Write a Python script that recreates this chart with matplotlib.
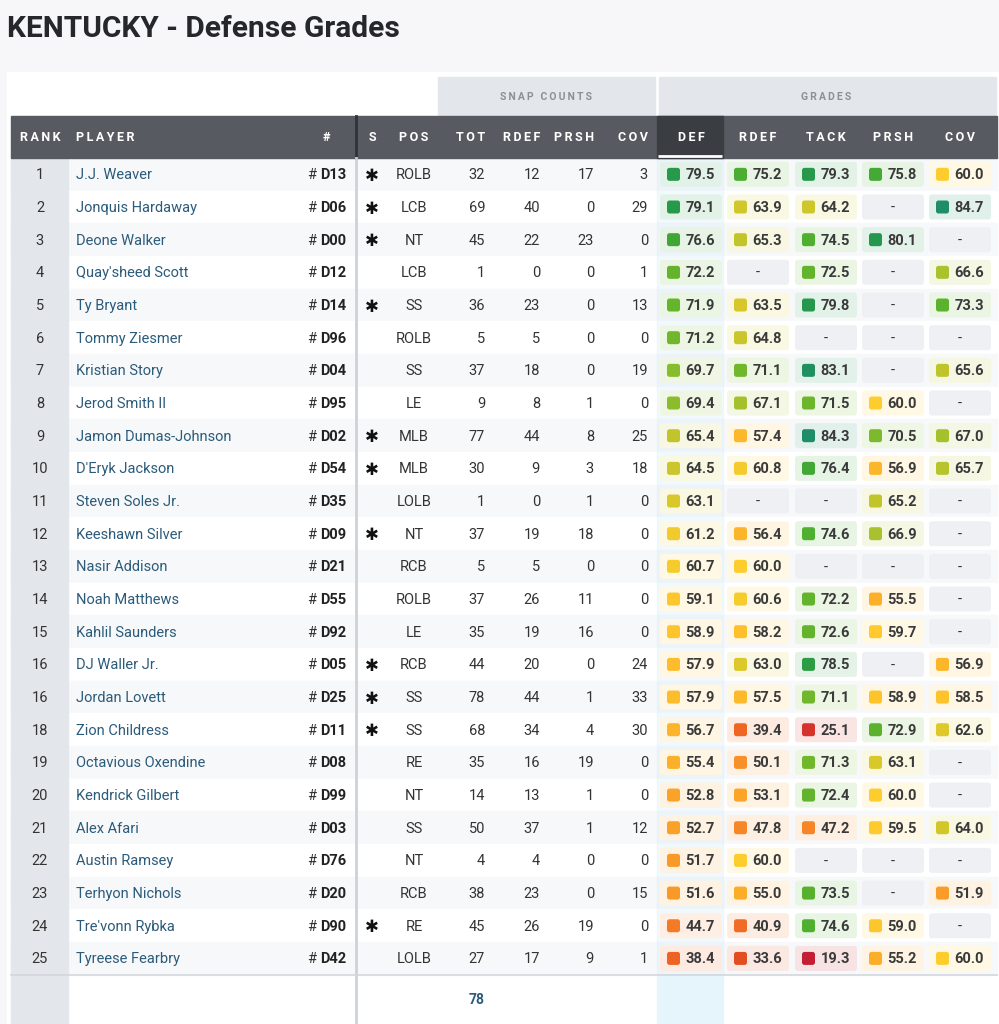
import numpy as np
import matplotlib.pyplot as plt
from matplotlib.patches import Rectangle, FancyBboxPatch
from matplotlib.colors import LinearSegmentedColormap, to_rgb

# table data
ranks = [1, 2, 3, 4, 5, 6, 7, 8, 9, 10, 11, 12, 13, 14, 15, 16, 16, 18, 19, 20, 21, 22, 23, 24, 25]
players = ["J.J. Weaver", "Jonquis Hardaway", "Deone Walker", "Quay'sheed Scott", "Ty Bryant",
           "Tommy Ziesmer", "Kristian Story", "Jerod Smith II", "Jamon Dumas-Johnson", "D'Eryk Jackson",
           "Steven Soles Jr.", "Keeshawn Silver", "Nasir Addison", "Noah Matthews", "Kahlil Saunders",
           "DJ Waller Jr.", "Jordan Lovett", "Zion Childress", "Octavious Oxendine", "Kendrick Gilbert",
           "Alex Afari", "Austin Ramsey", "Terhyon Nichols", "Tre'vonn Rybka", "Tyreese Fearbry"]
jerseys = ["D13", "D06", "D00", "D12", "D14", "D96", "D04", "D95", "D02", "D54", "D35", "D09", "D21",
           "D55", "D92", "D05", "D25", "D11", "D08", "D99", "D03", "D76", "D20", "D90", "D42"]
starter = [1, 1, 1, 0, 1, 0, 0, 0, 1, 1, 0, 1, 0, 0, 0, 1, 1, 1, 0, 0, 0, 0, 0, 1, 0]
positions = ["ROLB", "LCB", "NT", "LCB", "SS", "ROLB", "SS", "LE", "MLB", "MLB", "LOLB", "NT", "RCB",
             "ROLB", "LE", "RCB", "SS", "SS", "RE", "NT", "SS", "NT", "RCB", "RE", "LOLB"]
snap_tot = [32, 69, 45, 1, 36, 5, 37, 9, 77, 30, 1, 37, 5, 37, 35, 44, 78, 68, 35, 14, 50, 4, 38, 45, 27]
snap_rdef = [12, 40, 22, 0, 23, 5, 18, 8, 44, 9, 0, 19, 5, 26, 19, 20, 44, 34, 16, 13, 37, 4, 23, 26, 17]
snap_prsh = [17, 0, 23, 0, 0, 0, 0, 1, 8, 3, 1, 18, 0, 11, 16, 0, 1, 4, 19, 1, 1, 0, 0, 19, 9]
snap_cov = [3, 29, 0, 1, 13, 0, 19, 0, 25, 18, 0, 0, 0, 0, 0, 24, 33, 30, 0, 0, 12, 0, 15, 0, 1]
grade_def = [79.5, 79.1, 76.6, 72.2, 71.9, 71.2, 69.7, 69.4, 65.4, 64.5, 63.1, 61.2, 60.7, 59.1, 58.9,
             57.9, 57.9, 56.7, 55.4, 52.8, 52.7, 51.7, 51.6, 44.7, 38.4]
grade_rdef = [75.2, 63.9, 65.3, None, 63.5, 64.8, 71.1, 67.1, 57.4, 60.8, None, 56.4, 60.0, 60.6, 58.2,
              63.0, 57.5, 39.4, 50.1, 53.1, 47.8, 60.0, 55.0, 40.9, 33.6]
grade_tack = [79.3, 64.2, 74.5, 72.5, 79.8, None, 83.1, 71.5, 84.3, 76.4, None, 74.6, None, 72.2, 72.6,
              78.5, 71.1, 25.1, 71.3, 72.4, 47.2, None, 73.5, 74.6, 19.3]
grade_prsh = [75.8, None, 80.1, None, None, None, None, 60.0, 70.5, 56.9, 65.2, 66.9, None, 55.5, 59.7,
              None, 58.9, 72.9, 63.1, 60.0, 59.5, None, None, 59.0, 55.2]
grade_cov = [60.0, 84.7, None, 66.6, 73.3, None, 65.6, None, 67.0, 65.7, None, None, None, None, None,
             56.9, 58.5, 62.6, None, None, 64.0, None, 51.9, None, 60.0]
snap_total = 78

snap_headers = ["TOT", "RDEF", "PRSH", "COV"]
grade_headers = ["DEF", "RDEF", "TACK", "PRSH", "COV"]

# grade colour scale
anchors = [(19, "#c21d33"), (25, "#d4342c"), (34, "#e4501f"), (39, "#ef6423"), (45, "#f47c25"),
           (50, "#f79029"), (53, "#fba328"), (57, "#fcb62a"), (60, "#fecd2d"), (63, "#dcc82a"),
           (65, "#c6c62b"), (67, "#a6c12c"), (70, "#84bb2c"), (72, "#66b52b"), (75, "#4cae30"),
           (77, "#3ea537"), (79, "#289a48"), (81, "#229553"), (85, "#1f8c6b")]
lo, hi = anchors[0][0], anchors[-1][0]
cmap = LinearSegmentedColormap.from_list(
    "grade", [((v - lo) / (hi - lo), c) for v, c in anchors])


def grade_color(v):
    return cmap((min(max(v, lo), hi) - lo) / (hi - lo))


def tint(c, a=0.12, base=(1, 1, 1)):
    c = to_rgb(c)
    return tuple(b * (1 - a) + x * a for x, b in zip(c, base))


def spaced(s):
    # letter-spaced header labels
    return "\u2009".join(s)


W, H = 999, 1024
fig = plt.figure(figsize=(W / 100, H / 100), dpi=100, facecolor="#f7f7f9")
ax = fig.add_axes([0, 0, 1, 1])
ax.set_xlim(0, W)
ax.set_ylim(H, 0)
ax.axis("off")

FONT = ["Roboto", "DejaVu Sans"]
TXT = "#333333"
BLUE = "#2b5b7a"

ax.text(7, 29, "KENTUCKY - Defense Grades", fontsize=21.5, fontweight="bold",
        family="Roboto", color="#25272b", va="center", ha="left")

# white panel
ax.add_patch(Rectangle((7, 72), 992, H - 72, color="white", zorder=0))

# group header bands
ax.add_patch(Rectangle((438, 77), 217, 38, color="#e3e6ea", zorder=1))
ax.add_patch(Rectangle((659, 77), 337, 38, color="#e3e6ea", zorder=1))
ax.text(546.5, 96.5, spaced("SNAP COUNTS"), fontsize=7.5, fontweight="bold", family=FONT,
        color="#8b9097", ha="center", va="center")
ax.text(826, 96.5, spaced("GRADES"), fontsize=7.5, fontweight="bold", family=FONT, color="#8b9097",
        ha="center", va="center")

row_top = 158
row_h = 32.67
n = len(players)
table_bottom = row_top + n * row_h

# row backgrounds
for i in range(n):
    y = row_top + i * row_h
    ax.add_patch(Rectangle((11, y), 986, row_h, color="#f7f8fa" if i % 2 == 0 else "white", zorder=1))
# rank column
ax.add_patch(Rectangle((11, row_top), 57, H - row_top, color="#e3e6ea", zorder=2))
# DEF column highlight
ax.add_patch(Rectangle((657, row_top), 66, table_bottom - row_top, color="#d8eef9", alpha=0.35, zorder=2))
ax.add_patch(Rectangle((657, table_bottom), 66, H - table_bottom, color="#e6f4fb", zorder=2))

# header bar
ax.add_patch(Rectangle((11, 116), 986, 42, color="#575b61", zorder=3))
ax.add_patch(Rectangle((657, 116), 66, 42, color="#3a3d42", zorder=3))
ax.plot([658, 722], [155.5, 155.5], color="white", lw=2, zorder=4, solid_capstyle="butt")

hy = 137.5
hkw = dict(fontsize=9, fontweight="bold", family=FONT, color="white", va="center", zorder=5)
ax.text(40, hy, spaced("RANK"), ha="center", **hkw)
ax.text(76, hy, spaced("PLAYER"), ha="left", **hkw)
ax.text(326, hy, "#", ha="center", **hkw)
ax.text(372, hy, "S", ha="center", **hkw)
ax.text(414, hy, spaced("POS"), ha="center", **hkw)
snap_x = [485, 540, 594, 648]
for x, lab in zip(snap_x, snap_headers):
    ax.text(x, hy, spaced(lab), ha="right", **hkw)
grade_x = [691, 758, 826, 893, 960]
for x, lab in zip(grade_x, grade_headers):
    ax.text(x, hy, spaced(lab), ha="center", **hkw)

# vertical separator
ax.plot([355.5, 355.5], [116, 158], color="#2f3236", lw=2, zorder=4)
ax.plot([355.5, 355.5], [158, H], color="#cdd2d8", lw=2, zorder=4)
# footer line
ax.plot([11, 997], [table_bottom, table_bottom], color="#d3d7dc", lw=1.2, zorder=4)

bkw = dict(fontsize=10.5, family=FONT, va="center", zorder=5)
grades = [grade_def, grade_rdef, grade_tack, grade_prsh, grade_cov]
snaps = [snap_tot, snap_rdef, snap_prsh, snap_cov]
cell_w, cell_h = 62, 25

for i in range(n):
    yc = row_top + (i + 0.5) * row_h
    yt = yc + 1
    ax.text(40, yt, str(ranks[i]), ha="center", color=TXT, **bkw)
    ax.text(76, yt, players[i], ha="left", color=BLUE, **bkw)
    ax.text(346, yt, jerseys[i], ha="right", color="#222222", fontweight="bold", **bkw)
    ax.text(316, yt, "#", ha="right", color=TXT, **bkw)
    if starter[i]:
        ax.text(372, yc + 1.5, "\u2731", ha="center", va="center", fontsize=12,
                family="DejaVu Sans", color="#111111", zorder=5)
    ax.text(414, yt, positions[i], ha="center", color=TXT, **bkw)
    for x, col in zip(snap_x, snaps):
        ax.text(x, yt, str(col[i]), ha="right", color=TXT, **bkw)
    for x, col in zip(grade_x, grades):
        v = col[i]
        x0 = x - cell_w / 2
        y0 = yc - cell_h / 2
        if v is None:
            ax.add_patch(FancyBboxPatch((x0, y0), cell_w, cell_h, boxstyle="round,pad=0,rounding_size=3",
                                        fc="#eef0f4", ec="none", zorder=4))
            ax.text(x, yt, "-", ha="center", color=TXT, **bkw)
        else:
            c = grade_color(v)
            ax.add_patch(FancyBboxPatch((x0, y0), cell_w, cell_h, boxstyle="round,pad=0,rounding_size=3",
                                        fc=tint(c, 0.13), ec="none", zorder=4))
            ax.add_patch(FancyBboxPatch((x0 + 7, yc - 6.5), 13, 13, boxstyle="round,pad=0,rounding_size=2.5",
                                        fc=c, ec="none", zorder=5))
            ax.text(x0 + 55, yt, f"{v:.1f}", ha="right", color="#3a3a3a", fontsize=10.5,
                    family=FONT, fontweight="bold", va="center", zorder=6)

# footer total
ax.text(485, 1000, str(snap_total), ha="right", va="center", fontsize=10, fontweight="bold",
        family=FONT, color=BLUE, zorder=5)

fig.savefig("out.png", dpi=100, facecolor=fig.get_facecolor())
